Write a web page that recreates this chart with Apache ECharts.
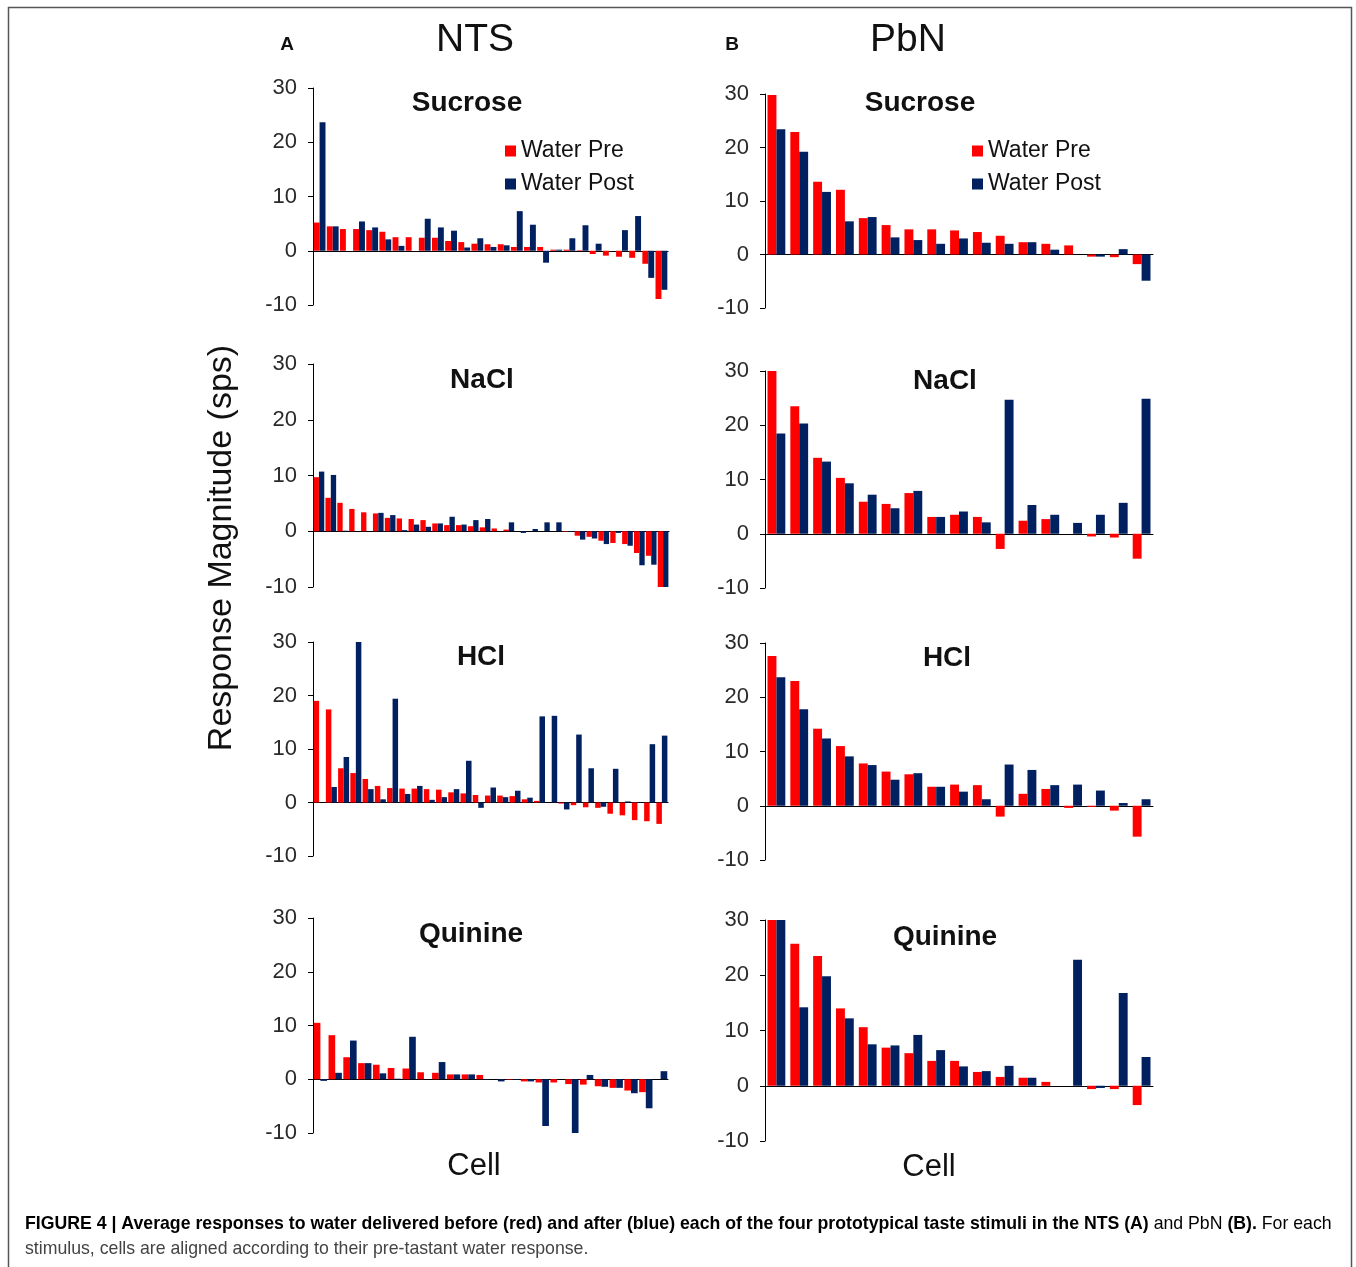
<!DOCTYPE html>
<html><head><meta charset="utf-8">
<script src="https://cdn.jsdelivr.net/npm/echarts/dist/echarts.min.js"></script>
<style>html,body{margin:0;padding:0;background:#fff}#c{width:1356px;height:1267px}</style>
</head><body><div id="c"></div>
<script>
// ---- Data (spikes/sec) ----
const seriesNames = ['Water Pre', 'Water Post'];
const yTickMin = -10, yTickMax = 30, yTickStep = 10;

const ntsSucrosePre  = [5.2, 4.5, 4.0, 4.0, 3.8, 3.5, 2.5, 2.5, 2.4, 2.4, 1.8, 1.6, 1.3, 1.2, 1.2, 0.7, 0.7, 0.7, 0.2, 0.2, 0.1, -0.6, -0.9, -1.1, -1.3, -2.4, -8.9];
const ntsSucrosePost = [23.7, 4.5, 0, 5.4, 4.3, 2.1, 0.9, 0, 5.9, 4.3, 3.7, 0.6, 2.3, 0.7, 1.0, 7.3, 4.8, -2.2, 0.2, 2.3, 4.7, 1.3, 0, 3.8, 6.4, -5.0, -7.2];

const ntsNaclPre  = [9.7, 6.0, 5.1, 4.0, 3.4, 3.2, 2.4, 2.3, 2.2, 2.0, 1.4, 1.1, 1.1, 0.9, 0.7, 0.5, 0.3, 0, 0, 0, 0, -0.1, -0.8, -1.0, -1.7, -2.1, -2.3, -3.9, -4.4, -10];
const ntsNaclPost = [10.7, 10.1, 0.1, 0, 0, 3.3, 2.9, 0.2, 1.2, 0.8, 1.4, 2.6, 1.2, 2.0, 2.2, 0, 1.6, -0.3, 0.4, 1.6, 1.6, -0.1, -1.5, -1.3, -2.3, -0.3, -2.6, -6.1, -6.0, -10];

const ntsHclPre  = [19.0, 17.4, 6.4, 5.5, 4.4, 3.1, 2.7, 2.6, 2.6, 2.5, 2.4, 1.9, 1.7, 1.4, 1.3, 1.3, 1.2, 0.6, 0.3, 0, -0.2, -0.5, -0.9, -1.0, -2.1, -2.4, -3.3, -3.5, -4.0];
const ntsHclPost = [0, 2.9, 8.5, 30, 2.5, 0.6, 19.4, 1.6, 3.1, 0.5, 1.0, 2.5, 7.8, -1.0, 2.8, 1.0, 2.2, 0.9, 16.1, 16.2, -1.3, 12.7, 6.4, -0.8, 6.3, 0.2, 0.1, 10.9, 12.5];

const ntsQuininePre  = [10.5, 8.2, 4.1, 3.0, 2.7, 2.1, 2.0, 1.3, 1.2, 0.9, 0.9, 0.8, 0, -0.1, -0.4, -0.6, -0.6, -0.9, -1.0, -1.3, -1.6, -2.1, -2.4, 0];
const ntsQuininePost = [-0.3, 1.2, 7.2, 3.0, 1.1, 0.1, 7.9, 0, 3.2, 0.9, 0.9, -0.1, -0.4, -0.1, -0.4, -8.7, 0, -10, 0.8, -1.4, -1.6, -2.6, -5.4, 1.5];

const pbnSucrosePre  = [29.8, 22.9, 13.6, 12.1, 6.8, 5.5, 4.7, 4.7, 4.5, 4.2, 3.5, 2.3, 2.0, 1.7, -0.4, -0.5, -1.8];
const pbnSucrosePost = [23.4, 19.2, 11.7, 6.2, 7.0, 3.2, 2.7, 2.0, 3.0, 2.2, 2.0, 2.3, 0.9, 0, -0.4, 1.0, -4.9];

const pbnNaclPre  = [30, 23.5, 14.0, 10.3, 5.9, 5.5, 7.5, 3.1, 3.5, 3.1, -2.8, 2.4, 2.7, 0, -0.5, -0.7, -4.6];
const pbnNaclPost = [18.5, 20.3, 13.3, 9.3, 7.2, 4.7, 7.9, 3.1, 4.1, 2.1, 24.7, 5.3, 3.5, 2.0, 3.5, 5.7, 24.9];

const pbnHclPre  = [27.6, 23.0, 14.2, 11.0, 7.8, 6.3, 5.8, 3.5, 3.9, 3.8, -2.0, 2.2, 3.1, -0.4, -0.2, -0.9, -5.7];
const pbnHclPost = [23.7, 17.8, 12.4, 9.1, 7.5, 4.8, 6.0, 3.5, 2.6, 1.2, 7.6, 6.6, 3.8, 3.9, 2.8, 0.5, 1.2];

const pbnQuininePre  = [30, 25.7, 23.5, 14.0, 10.6, 6.9, 5.9, 4.5, 4.5, 2.5, 1.6, 1.45, 0.7, 0, -0.6, -0.6, -3.5];
const pbnQuininePost = [30, 14.2, 19.8, 12.2, 7.5, 7.3, 9.2, 6.45, 3.5, 2.65, 3.6, 1.45, 0, 22.8, -0.4, 16.8, 5.2];

// ---- Layout ----
const FONT = "'Liberation Sans', Arial, sans-serif";
const RED = '#FF0000', BLUE = '#002060';
const panels = [
  {title:'Sucrose', pre:ntsSucrosePre, post:ntsSucrosePost, left:313, width:355, top:88,  height:217, tx:467, ty:103, gap:'10%'},
  {title:'NaCl',    pre:ntsNaclPre,    post:ntsNaclPost,    left:313, width:356, top:364, height:223, tx:482, ty:380, gap:'10%'},
  {title:'HCl',     pre:ntsHclPre,     post:ntsHclPost,     left:313, width:355, top:642, height:214, tx:481, ty:657, gap:'10%'},
  {title:'Quinine', pre:ntsQuininePre, post:ntsQuininePost, left:313, width:355, top:918, height:215, tx:471, ty:934, gap:'10%'},
  {title:'Sucrose', pre:pbnSucrosePre, post:pbnSucrosePost, left:765, width:388, top:94,  height:214, tx:920, ty:103, gap:'22%'},
  {title:'NaCl',    pre:pbnNaclPre,    post:pbnNaclPost,    left:765, width:388, top:371, height:217, tx:945, ty:381, gap:'22%'},
  {title:'HCl',     pre:pbnHclPre,     post:pbnHclPost,     left:765, width:388, top:643, height:217, tx:947, ty:658, gap:'22%'},
  {title:'Quinine', pre:pbnQuininePre, post:pbnQuininePost, left:765, width:388, top:920, height:221, tx:945, ty:937, gap:'22%'}
];

const grid = [], xAxis = [], yAxis = [], series = [], graphic = [];
panels.forEach((p, i) => {
  grid.push({left:p.left, top:p.top, width:p.width, height:p.height, containLabel:false});
  xAxis.push({type:'category', gridIndex:i, data:p.pre.map((_, k) => 'Cell ' + (k + 1)), boundaryGap:true,
    axisLine:{onZero:true, lineStyle:{color:'#000', width:1}}, axisTick:{show:false}, axisLabel:{show:false}, splitLine:{show:false}});
  yAxis.push({type:'value', gridIndex:i, min:yTickMin, max:yTickMax, interval:yTickStep,
    axisLine:{show:true, onZero:false, lineStyle:{color:'#000', width:1}},
    axisTick:{show:true, length:5, inside:false, lineStyle:{color:'#000'}},
    axisLabel:{fontSize:22, color:'#2a2a2a', fontFamily:FONT, margin:16},
    splitLine:{show:false}});
  series.push({name:seriesNames[0], type:'bar', xAxisIndex:i, yAxisIndex:i, data:p.pre,
    itemStyle:{color:RED}, barGap:'0%', barCategoryGap:p.gap, animation:false});
  series.push({name:seriesNames[1], type:'bar', xAxisIndex:i, yAxisIndex:i, data:p.post,
    itemStyle:{color:BLUE}, barGap:'0%', barCategoryGap:p.gap, animation:false});
  graphic.push({type:'text', x:p.tx, y:p.ty, style:{text:p.title, font:'bold 28px ' + FONT, fill:'#111', textAlign:'center', textVerticalAlign:'middle'}});
});

const txt = (x, y, t, font) => ({type:'text', x:x, y:y, style:{text:t, font:font, fill:'#111', textAlign:'center', textVerticalAlign:'middle'}});

graphic.push({type:'rect', shape:{x:8.5, y:7.5, width:1343, height:1300}, style:{fill:'none', stroke:'#555', lineWidth:1.5}, silent:true});
graphic.push(txt(287, 45, 'A', 'bold 19px ' + FONT));
graphic.push(txt(732, 45, 'B', 'bold 19px ' + FONT));
graphic.push(txt(475, 40, 'NTS', '39px ' + FONT));
graphic.push(txt(908, 40, 'PbN', '39px ' + FONT));
graphic.push(txt(474, 1166, 'Cell', '31px ' + FONT));
graphic.push(txt(929, 1167, 'Cell', '31px ' + FONT));
graphic.push({type:'text', x:222, y:548, rotation:Math.PI/2,
  style:{text:'Response Magnitude (sps)', font:'34px ' + FONT, fill:'#111', textAlign:'center', textVerticalAlign:'middle'}});

const CAPFONT = "'Liberation Sans Narrow', 'Liberation Sans', Arial, sans-serif";
graphic.push({type:'text', x:25, y:1224, style:{
  text:'{b|FIGURE 4 | Average responses to water delivered before (red) and after (blue) each of the four prototypical taste stimuli in the NTS (A)}{n| and PbN }{b|(B).}{n| For each}',
  textVerticalAlign:'middle',
  rich:{b:{fontFamily:CAPFONT, fontWeight:'bold', fontSize:17.7, color:'#222'},
        n:{fontFamily:CAPFONT, fontSize:17.7, color:'#444'}}}});
graphic.push({type:'text', x:25, y:1249, style:{text:'stimulus, cells are aligned according to their pre-tastant water response.',
  font:'17.7px ' + CAPFONT, fill:'#444', textVerticalAlign:'middle'}});

const legendCommon = {orient:'vertical', icon:'rect', itemWidth:11, itemHeight:11, itemGap:9, selectedMode:false, padding:0,
  textStyle:{fontSize:23, fontFamily:FONT, color:'#111', lineHeight:24}, data:seriesNames};

const chart = echarts.init(document.getElementById('c'), null, {renderer:'canvas'});
chart.setOption({
  backgroundColor:'#fff',
  animation:false,
  grid, xAxis, yAxis, series, graphic,
  legend:[Object.assign({left:505, top:139}, legendCommon), Object.assign({left:972, top:139}, legendCommon)],
  tooltip:{show:false}
});
</script></body></html>
